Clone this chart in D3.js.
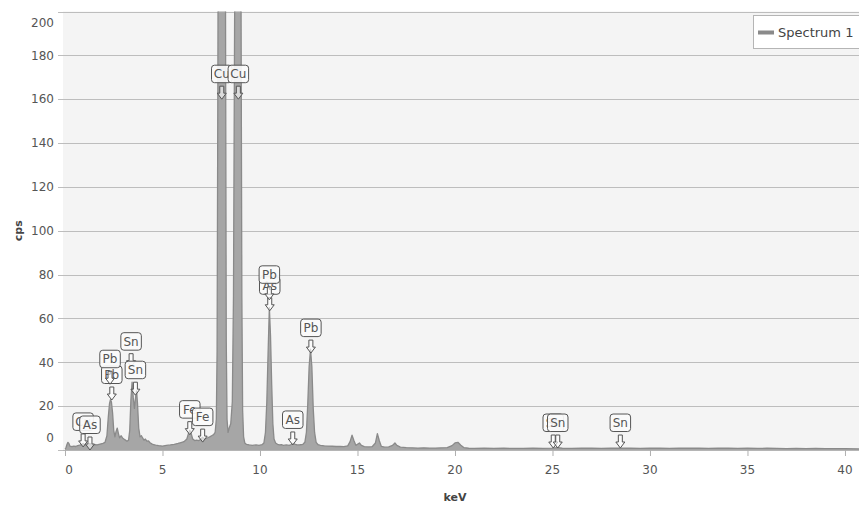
<!DOCTYPE html>
<html>
<head>
<meta charset="utf-8">
<script src="https://cdn.jsdelivr.net/npm/d3@7"></script>
<style>
  html, body { margin: 0; padding: 0; background: #ffffff; }
  svg { display: block; font-family: "DejaVu Sans", Verdana, sans-serif; }
</style>
</head>
<body>
<svg id="chart" width="859" height="509"></svg>
<script>
// EDS spectrum: energy (keV) and count rate (cps)
const energyKeV = [
  0.00, 0.05, 0.10, 0.15, 0.20, 0.25, 0.35, 0.45, 0.55, 0.65, 0.75, 0.85, 0.93, 1.00, 1.10, 1.20, 1.28, 1.35, 1.45, 1.55,
  1.65, 1.75, 1.85, 1.95, 2.05, 2.15, 2.22, 2.28, 2.33, 2.38, 2.44, 2.50, 2.56, 2.62, 2.68, 2.74, 2.80, 2.88, 2.95, 3.02,
  3.10, 3.18, 3.26, 3.32, 3.38, 3.44, 3.50, 3.56, 3.62, 3.67, 3.72, 3.78, 3.85, 3.92, 3.98, 4.05, 4.12, 4.20, 4.28, 4.36,
  4.45, 4.55, 4.65, 4.80, 5.00, 5.20, 5.40, 5.60, 5.80, 5.95, 6.10, 6.25, 6.33, 6.40, 6.47, 6.55, 6.65, 6.75, 6.85, 6.95,
  7.05, 7.12, 7.22, 7.32, 7.42, 7.52, 7.62, 7.70, 7.76, 7.80, 7.84, 7.87, 7.95, 8.04, 8.13, 8.21, 8.24, 8.27, 8.31, 8.36,
  8.42, 8.50, 8.58, 8.64, 8.70, 8.75, 8.87, 8.98, 9.03, 9.07, 9.11, 9.16, 9.22, 9.30, 9.45, 9.60, 9.80, 9.95, 10.10, 10.20,
  10.28, 10.35, 10.42, 10.48, 10.54, 10.60, 10.66, 10.72, 10.80, 10.90, 11.00, 11.10, 11.20, 11.35, 11.50, 11.60, 11.70, 11.78, 11.90, 12.05,
  12.20, 12.30, 12.38, 12.45, 12.52, 12.59, 12.66, 12.73, 12.80, 12.88, 12.98, 13.10, 13.30, 13.50, 13.70, 13.90, 14.10, 14.30, 14.50, 14.62,
  14.72, 14.82, 14.92, 15.00, 15.10, 15.20, 15.35, 15.55, 15.75, 15.92, 16.02, 16.12, 16.22, 16.40, 16.60, 16.80, 16.92, 17.02, 17.20, 17.50,
  17.80, 18.10, 18.40, 18.70, 19.00, 19.30, 19.60, 19.85, 20.00, 20.15, 20.30, 20.45, 20.70, 21.00, 21.50, 22.00, 22.50, 23.00, 23.50, 24.00,
  24.50, 25.00, 25.25, 25.50, 26.00, 26.50, 27.00, 27.50, 28.00, 28.50, 29.00, 29.50, 30.00, 30.50, 31.00, 31.50, 32.00, 32.50, 33.00, 33.50,
  34.00, 34.50, 35.00, 35.50, 36.00, 36.50, 37.00, 37.50, 38.00, 38.50, 39.00, 39.50, 40.00, 40.75
];
const countsCps = [
  0.5, 1.0, 2.5, 3.5, 3.0, 1.8, 1.5, 1.8, 1.6, 2.0, 2.2, 2.5, 3.0, 2.4, 2.2, 2.6, 3.0, 2.4, 2.2, 2.5,
  2.3, 2.6, 2.8, 3.0, 3.5, 6.5, 15, 21, 23, 22, 17, 9, 6, 8.5, 10, 7.5, 5.5, 6.5, 5.5, 5,
  4.5, 4.0, 4.5, 9, 23, 31, 24, 19, 24, 27, 21, 10, 6, 6.5, 5.5, 4.5, 5, 4.0, 4.2, 3.3,
  2.8, 2.4, 2.2, 2.0, 1.8, 2.1, 2.3, 2.6, 3.0, 3.4, 3.8, 5.0, 7.5, 9, 7.5, 5.0, 4.3, 4.5, 4.3, 4.8,
  5.8, 5.3, 5.2, 5.6, 6.0, 6.5, 7.0, 8, 14, 45, 170, 300, 900, 1500, 900, 300, 170, 50, 14, 8,
  10, 12, 22, 70, 200, 300, 600, 300, 200, 70, 18, 6, 3.2, 2.6, 2.3, 2.1, 2.3, 2.1, 2.4, 3.2,
  8, 22, 46, 65, 52, 30, 12, 5, 3.2, 2.6, 2.3, 2.4, 2.1, 2.3, 2.1, 2.5, 3.0, 2.7, 2.3, 2.4,
  2.6, 3.5, 8, 21, 38, 46, 38, 19, 8, 3.5, 2.4, 2.1, 1.9, 1.8, 1.7, 1.6, 1.6, 1.5, 1.9, 3.8,
  6.8, 4.2, 2.1, 2.6, 3.2, 2.1, 1.5, 1.4, 1.5, 3.2, 7.5, 4.2, 1.7, 1.3, 1.4, 2.1, 3.2, 2.1, 1.3, 1.1,
  1.0, 0.9, 1.0, 0.9, 0.9, 1.0, 1.1, 2.0, 3.2, 3.5, 2.2, 1.1, 0.8, 0.7, 0.8, 0.7, 0.8, 0.7, 0.7, 0.8,
  0.7, 0.9, 1.1, 0.8, 0.7, 0.8, 0.9, 0.7, 0.8, 0.9, 0.8, 0.7, 0.8, 0.9, 0.7, 0.8, 0.9, 0.8, 0.7, 0.8,
  0.9, 0.7, 0.8, 0.7, 0.8, 0.7, 0.6, 0.7, 0.6, 0.7, 0.6, 0.6, 0.6, 0.5
];

// Element line markers: symbol, energy (keV), arrow tip height (cps)
const markerElements = ["Cu", "As", "Pb", "Pb", "Sn", "Sn", "Fe", "Fe", "Cu", "Cu", "As", "Pb", "As", "Pb", "Sn", "Sn", "Sn"];
const markerEnergies = [0.93, 1.28, 2.40, 2.31, 3.39, 3.61, 6.40, 7.06, 8.04, 8.89, 10.50, 10.48, 11.68, 12.61, 25.04, 25.27, 28.48];
const markerTipCps   = [1.4, 0.0, 22.8, 30.0, 38.0, 25.0, 7.0, 3.6, 160, 160, 63.5, 68.5, 2.3, 44.2, 0.9, 0.9, 0.9];

const yTicks = [0, 20, 40, 60, 80, 100, 120, 140, 160, 180, 200];
const xTicks = [0, 5, 10, 15, 20, 25, 30, 35, 40];
const seriesName = "Spectrum 1";
const xTitle = "keV";
const yTitle = "cps";

const plot = { left: 63, right: 859, top: 11.5, bottom: 450 };

const x = d3.scaleLinear().domain([0, 40.75]).range([65, 859.6]);
const y = d3.scaleLinear().domain([0, 200]).range([plot.bottom, plot.top]);

const svg = d3.select("#chart");

// plot background
svg.append("rect")
  .attr("x", plot.left).attr("y", plot.top)
  .attr("width", plot.right - plot.left).attr("height", plot.bottom - plot.top)
  .attr("fill", "#f4f4f4");

// horizontal grid with left tick stubs
const yAxis = d3.axisLeft(y).tickValues(yTicks).tickSize(-(plot.right - 58)).tickFormat("");
svg.append("g")
  .attr("transform", `translate(58,0)`)
  .call(yAxis)
  .call(g => g.select(".domain").remove())
  .call(g => g.selectAll(".tick line").attr("stroke", "#bdbdbd").attr("stroke-width", 1)
    .attr("shape-rendering", "crispEdges"));

// y tick labels (end labels kept inside the plot height)
svg.append("g").selectAll("text").data(yTicks).join("text")
  .attr("x", 54)
  .attr("y", d => y(d) + (d === 200 ? 11 : d === 0 ? -12 : 0))
  .attr("dy", "0.35em")
  .attr("text-anchor", "end")
  .attr("font-size", 12)
  .attr("fill", "#555")
  .text(d => d);

// spectrum area
const clipId = "plot-clip";
svg.append("clipPath").attr("id", clipId)
  .append("rect")
  .attr("x", plot.left).attr("y", plot.top)
  .attr("width", plot.right - plot.left).attr("height", plot.bottom - plot.top);

const spectrum = energyKeV.map((e, i) => [e, countsCps[i]]);
const area = d3.area().x(d => x(d[0])).y0(y(0)).y1(d => y(d[1]));
const line = d3.line().x(d => x(d[0])).y(d => y(d[1]));

const specG = svg.append("g").attr("clip-path", `url(#${clipId})`);
specG.append("path").datum(spectrum)
  .attr("d", area)
  .attr("fill", "#a6a6a6");
specG.append("path").datum(spectrum)
  .attr("d", line)
  .attr("fill", "none")
  .attr("stroke", "#8a8a8a")
  .attr("stroke-width", 1.3)
  .attr("stroke-linejoin", "round");

// x axis
const xAxis = d3.axisBottom(x).tickValues(xTicks).tickSize(6).tickFormat("");
svg.append("g")
  .attr("transform", `translate(0,${plot.bottom})`)
  .call(xAxis)
  .call(g => g.select(".domain").attr("stroke", "#b5b5b5").attr("d", `M${plot.left},0.5H${plot.right}`))
  .call(g => g.selectAll(".tick line").attr("stroke", "#b0b0b0"));

svg.append("g").selectAll("text").data(xTicks).join("text")
  .attr("x", d => x(d) + (d === 0 ? 4 : 0))
  .attr("y", 470)
  .attr("dy", "0.35em")
  .attr("text-anchor", "middle")
  .attr("font-size", 12)
  .attr("fill", "#555")
  .text(d => d);

// axis titles
svg.append("text")
  .attr("x", 455).attr("y", 497)
  .attr("dy", "0.35em")
  .attr("text-anchor", "middle")
  .attr("font-size", 11)
  .attr("font-weight", "bold")
  .attr("fill", "#444")
  .text(xTitle);

svg.append("text")
  .attr("transform", `translate(18,${(plot.top + plot.bottom) / 2}) rotate(-90)`)
  .attr("dy", "0.35em")
  .attr("text-anchor", "middle")
  .attr("font-size", 11)
  .attr("font-weight", "bold")
  .attr("fill", "#444")
  .text(yTitle);

// element line markers: label box above a hollow down arrow
const markers = markerElements.map((el, i) => ({ el, e: markerEnergies[i], tip: markerTipCps[i] }));
const mG = svg.append("g").attr("clip-path", `url(#${clipId})`);
markers.forEach(m => {
  const cx = x(m.e);
  const ty = y(m.tip);
  const g = mG.append("g");
  // arrow: shaft then head, tip at the peak level
  const a = ty - 13;
  const arrow = `M${cx - 2},${a} H${cx + 2} V${a + 7} H${cx + 4.5} L${cx},${ty} L${cx - 4.5},${a + 7} H${cx - 2} Z`;
  g.append("path").attr("d", arrow)
    .attr("fill", "#ffffff").attr("fill-opacity", 0.6)
    .attr("stroke", "#555").attr("stroke-width", 1);
  const bw = 20.5, bh = 17.5;
  g.append("rect")
    .attr("x", cx - bw / 2).attr("y", ty - 34)
    .attr("width", bw).attr("height", bh)
    .attr("rx", 3)
    .attr("fill", "#fafafa").attr("fill-opacity", 0.92)
    .attr("stroke", "#555").attr("stroke-width", 1);
  g.append("text")
    .attr("x", cx).attr("y", ty - 34 + bh / 2)
    .attr("dy", "0.36em")
    .attr("text-anchor", "middle")
    .attr("font-size", 12)
    .attr("fill", "#555")
    .text(m.el);
});

// legend
const lg = svg.append("g");
lg.append("rect")
  .attr("x", 753.5).attr("y", 15.5).attr("width", 120).attr("height", 33)
  .attr("fill", "#ffffff").attr("stroke", "#b5b5b5");
lg.append("rect")
  .attr("x", 758).attr("y", 30.5).attr("width", 16).attr("height", 4)
  .attr("fill", "#8a8a8a");
lg.append("text")
  .attr("x", 778).attr("y", 32.5)
  .attr("dy", "0.35em")
  .attr("font-size", 13)
  .attr("fill", "#444")
  .text(seriesName);
</script>
</body>
</html>
